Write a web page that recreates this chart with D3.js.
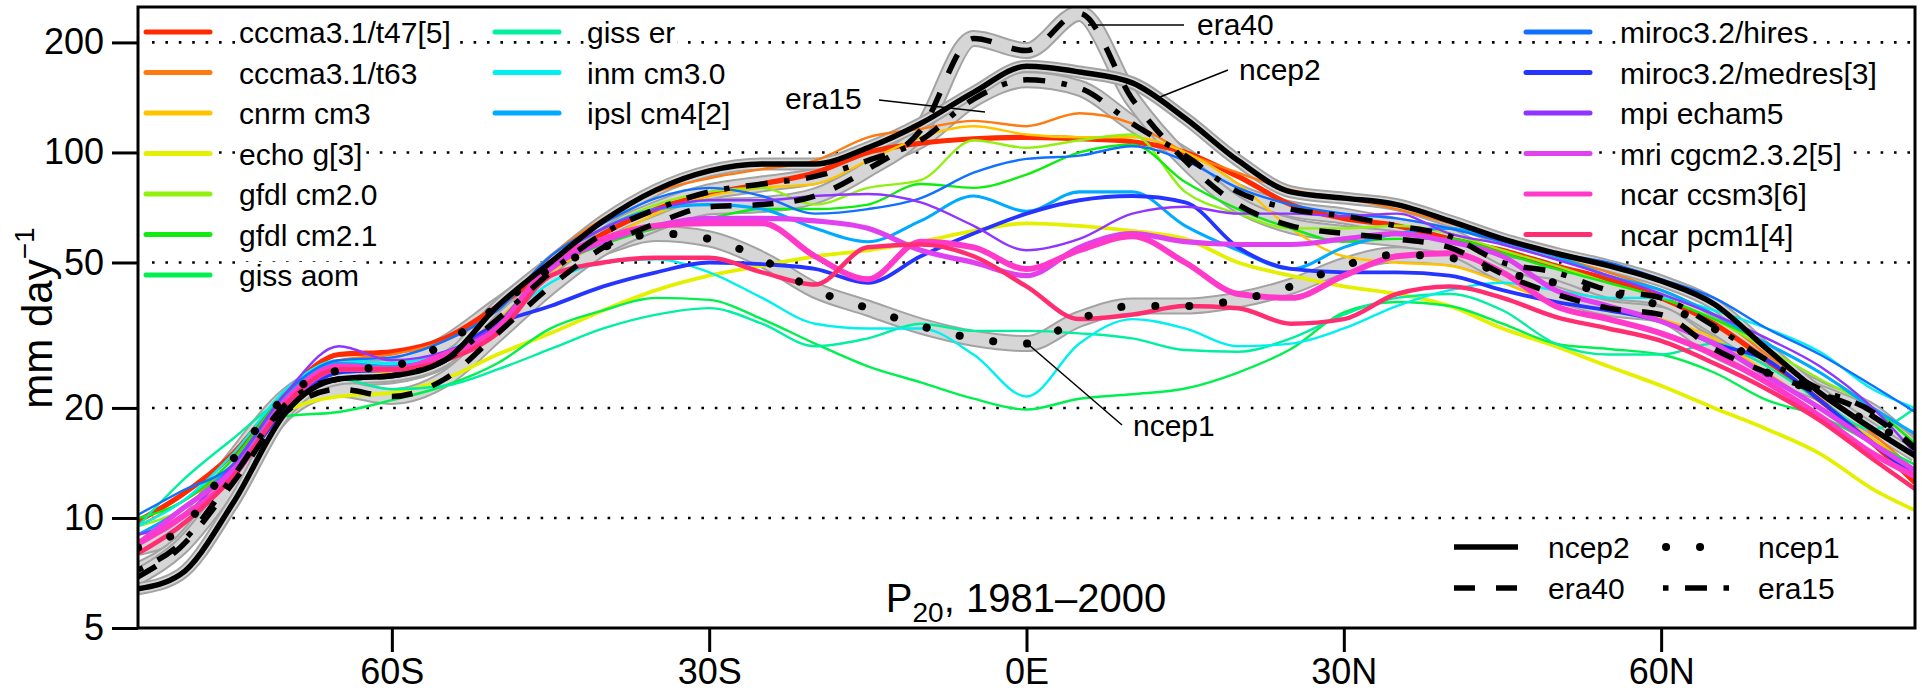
<!DOCTYPE html>
<html>
<head>
<meta charset="utf-8">
<script src="https://cdn.jsdelivr.net/npm/d3@7"></script>
<style>
  body { margin: 0; background: #fff; }
  svg { display: block; }
  text { font-family: "Liberation Sans", Arial, Helvetica, sans-serif; fill: #000; }
</style>
</head>
<body>
<svg width="1922" height="693"></svg>
<script>
// latitude grid (degrees, negative = south)
const lat = [-84, -80, -75, -70, -65, -60, -55, -50, -45, -40, -35, -30, -25, -20, -15, -10, -5, 0,
  5, 10, 15, 20, 25, 30, 35, 40, 45, 50, 55, 60, 65, 70, 75, 80, 84];

// P20 (mm/day) per model
const cccmaT47 = [9.8, 11.5, 15, 22, 28, 28.5, 31, 38, 48, 60, 70, 77, 82, 88, 100, 106, 109, 110, 109, 107, 100, 86, 72, 66, 63, 58, 54, 49, 45, 40, 34, 27, 21, 16, 12.5];
const cccmaT63 = [9.5, 11, 14, 21.5, 27, 28, 30.5, 37, 52, 66, 78, 85, 90, 95, 110, 116, 122, 118, 128, 120, 100, 88, 79, 75, 70, 64, 58, 52, 47, 42, 36, 28, 22, 17, 13.5];
const cnrmCm3 = [9, 10, 13.5, 21, 25.5, 25, 28, 35, 47, 57, 68, 76, 80, 82, 95, 110, 118, 112, 110, 110, 100, 82, 62, 52, 50, 49, 44, 39, 37, 35, 31, 25, 20, 16.5, 13.5];
const echoG = [9, 10, 13, 19.5, 21.5, 22, 24, 28, 32, 37, 42, 46, 49, 52, 54, 57, 61, 64, 63, 61, 58, 50, 46, 43, 41, 38, 33, 29.5, 26, 23, 20, 17.5, 15, 12, 10.5];
const gfdlCm20 = [9.5, 10.5, 14, 22, 26.5, 26, 27.5, 33, 50, 62, 72, 78, 80, 72, 80, 84, 108, 103, 108, 112, 78, 68, 62, 62, 63, 60, 54, 49, 44, 40, 35, 29, 24, 20, 16];
const gfdlCm21 = [10, 11, 14.5, 22, 26, 25.5, 28, 34, 48, 56, 62, 66, 70, 70, 72, 82, 80, 87, 100, 105, 83, 70, 62, 57, 58, 58, 53, 48, 44, 40, 35, 30, 25, 20, 16];
const gissAom = [9, 10.5, 14, 19, 19.5, 21, 23, 26.5, 33, 37, 40, 39.5, 35, 30, 26, 23.5, 21.2, 19.8, 21.2, 21.8, 22.6, 25, 29, 36.5, 39, 38, 34, 30, 29, 28, 25, 21, 19, 16, 14];
const gissEr = [9.5, 12.5, 16.5, 21.5, 24, 22.5, 23, 25.5, 29, 33, 36, 37.5, 34, 29.5, 31, 34, 32.5, 32.5, 32, 31, 28.8, 28.5, 31, 36, 40, 41, 37, 30, 28, 28, 30, 26, 21, 17.5, 20];
const inmCm30 = [9.5, 11, 15, 22.5, 27, 26.5, 28.5, 34, 44, 50, 51, 47, 40, 34, 33, 33, 28, 21.5, 30, 35, 33, 29.5, 30, 33, 38, 42, 44, 42, 40, 40, 37, 33, 28.5, 22.5, 20];
const ipslCm4 = [9, 10.5, 14, 21.5, 26.5, 26, 28, 34, 50, 62, 70, 72, 70, 62, 57, 65, 76, 69, 78, 78, 63, 54, 48, 55, 60, 62, 57, 52, 46, 42, 36, 30, 25, 20, 17];
const mirocHires = [10.2, 11.8, 14, 22, 27, 27.5, 30.5, 37, 52, 64, 75, 80, 76, 68, 70, 75, 88, 96, 98, 104, 95, 80, 72, 68, 66, 62, 57, 53, 50, 45, 40, 33, 28, 23, 19.5];
const mirocMedres = [8.5, 10, 13, 20, 25, 25.5, 28, 34, 38, 43, 47, 50, 49.5, 48, 44, 52, 60, 68, 74, 76, 73, 55, 48, 47, 47, 46, 42, 39, 37, 34.5, 30, 27, 21, 16, 13];
const mpiEcham5 = [9, 10, 14, 22, 29.5, 27, 28.5, 34, 50, 62, 70, 74, 74, 76, 77, 73, 63, 54, 58, 68, 71, 68, 68, 67, 68, 60, 56, 51, 46, 41, 36, 31, 26, 20, 15];
const mriCgcm = [8.5, 10.5, 13.5, 20.5, 25.5, 25.5, 28, 33, 48, 57, 63, 66, 66, 65, 62, 54, 50, 46, 55, 60, 57, 56, 56, 58, 60, 57, 52, 42, 38, 34.5, 30, 24.5, 20, 16, 13.5];
const ncarCcsm3 = [8.5, 10, 13, 21, 26, 25.5, 28, 33, 50, 58, 63, 64, 64, 52, 45, 57, 55, 48, 54, 59, 50, 41, 40, 46, 52, 53, 47, 38, 35, 32, 28, 23.5, 19, 15, 13];
const ncarPcm1 = [8, 9.5, 13, 20.5, 25.5, 25.5, 27, 32, 46, 50, 51.5, 51.5, 47, 43.5, 55, 56, 52, 43, 35, 36, 38, 37.5, 34, 35, 41, 43, 40, 35.5, 33, 30.5, 26.5, 22.5, 18.5, 14.5, 12];

// reanalyses
const ncep2 = [6.4, 7.0, 11, 19.5, 24, 24.5, 27, 38, 50, 65, 79, 89, 93, 93, 103, 120, 146, 172, 166, 155, 124, 95, 78, 75, 72, 65, 58, 53, 49, 44.5, 38.5, 29, 22, 17.5, 14.8];
const era40 = [6.9, 8.3, 12.5, 19.5, 22.5, 21.5, 24, 32, 43, 55, 64, 71, 72, 76, 90, 115, 205, 190, 240, 140, 95, 72, 63, 60, 58, 55, 46.5, 41, 37.5, 36, 29, 25, 22, 19, 15.5];
const era15 = [7.2, 8.5, 13, 20.5, 24, 24.5, 27, 35, 47, 60, 70, 78, 82, 86, 95, 108, 140, 158, 150, 120, 98, 78, 70, 67, 63, 59, 50, 47, 42, 40, 33.5, 27, 22.5, 19.5, 15.5];
const ncep1 = [8.3, 9.3, 14.5, 21.5, 25.3, 26, 30, 38, 48, 55, 60, 58, 51, 42, 37.5, 33.5, 31, 30, 35, 38, 38, 39.5, 43, 49, 52.5, 51.5, 47, 44, 41.5, 38, 33, 25, 22, 18, 16];

const modelNames = ["cccma3.1/t47[5]", "cccma3.1/t63", "cnrm cm3", "echo g[3]", "gfdl cm2.0", "gfdl cm2.1",
  "giss aom", "giss er", "inm cm3.0", "ipsl cm4[2]", "miroc3.2/hires", "miroc3.2/medres[3]",
  "mpi echam5", "mri cgcm2.3.2[5]", "ncar ccsm3[6]", "ncar pcm1[4]"];
const modelColors = ["#ff2a00", "#ff7a10", "#ffc400", "#e4f000", "#90f010", "#10ec10",
  "#00f050", "#00f0a0", "#00f0f0", "#00aaff", "#1070ff", "#2535ff",
  "#9035ff", "#e040f0", "#ff3acb", "#ff2e70"];
const modelMembers = [5, 1, 1, 3, 1, 1, 1, 1, 1, 2, 1, 3, 1, 5, 6, 4];
const modelValues = [cccmaT47, cccmaT63, cnrmCm3, echoG, gfdlCm20, gfdlCm21, gissAom, gissEr,
  inmCm30, ipslCm4, mirocHires, mirocMedres, mpiEcham5, mriCgcm, ncarCcsm3, ncarPcm1];

const yTicks = [5, 10, 20, 50, 100, 200];
const yGrid = [10, 20, 50, 100, 200];
const xTicks = [-60, -30, 0, 30, 60];
const xTickLabels = ["60S", "30S", "0E", "30N", "60N"];

const svg = d3.select("svg");
const pLeft = 138, pRight = 1915, pTop = 7, pBottom = 628;

const x = d3.scaleLinear().domain([-84, 84]).range([pLeft, pRight]);
const y = d3.scaleLog().domain([5, 250]).range([pBottom, pTop]);

svg.append("clipPath").attr("id", "plotclip")
  .append("rect").attr("x", pLeft).attr("y", pTop).attr("width", pRight - pLeft).attr("height", pBottom - pTop);

// dotted grid
svg.append("g").selectAll("line").data(yGrid).enter().append("line")
  .attr("x1", pLeft + 14).attr("x2", pRight)
  .attr("y1", d => y(d)).attr("y2", d => y(d))
  .attr("stroke", "#000").attr("stroke-width", 2.6)
  .attr("stroke-dasharray", "2.6,10.8");

const line = d3.line()
  .x((d, i) => x(lat[i]))
  .y(d => y(d))
  .curve(d3.curveMonotoneX);

const plot = svg.append("g").attr("clip-path", "url(#plotclip)");

// reanalysis definitions
const reanalyses = [
  { name: "ncep1", values: ncep1, width: 8, dash: "0.1,33.9", cap: "round", band: 17 },
  { name: "era15", values: era15, width: 5.5, dash: "5.5,16.5,22,16.5", cap: "butt", band: 17 },
  { name: "era40", values: era40, width: 5.5, dash: "21,21", cap: "butt", band: 17 },
  { name: "ncep2", values: ncep2, width: 5.5, dash: null, cap: "round", band: 13 }
];

// grey bands under everything
reanalyses.forEach(r => {
  plot.append("path").attr("d", line(r.values)).attr("fill", "none")
    .attr("stroke", "#a3a3a3").attr("stroke-width", r.band).attr("stroke-linejoin", "round");
  plot.append("path").attr("d", line(r.values)).attr("fill", "none")
    .attr("stroke", "#d6d6d6").attr("stroke-width", r.band - 4).attr("stroke-linejoin", "round");
});

// model lines
plot.append("g").selectAll("path")
  .data(modelValues)
  .enter()
  .append("path")
  .attr("d", d => line(d))
  .attr("fill", "none")
  .attr("stroke", (d, i) => modelColors[i])
  .attr("stroke-width", (d, i) => 2.4 + 0.7 * (modelMembers[i] - 1))
  .attr("stroke-linejoin", "round");

// black reanalysis lines on top
reanalyses.forEach(r => {
  plot.append("path").attr("d", line(r.values)).attr("fill", "none")
    .attr("stroke", "#000").attr("stroke-width", r.width)
    .attr("stroke-dasharray", r.dash)
    .attr("stroke-linecap", r.cap).attr("stroke-linejoin", "round");
});

// frame
svg.append("rect").attr("x", pLeft).attr("y", pTop).attr("width", pRight - pLeft).attr("height", pBottom - pTop)
  .attr("fill", "none").attr("stroke", "#000").attr("stroke-width", 3);

// axes
const yAxis = svg.append("g").attr("transform", `translate(${pLeft},0)`)
  .call(d3.axisLeft(y).tickValues(yTicks).tickFormat(d3.format("d")).tickSize(26).tickPadding(8));
const xAxis = svg.append("g").attr("transform", `translate(0,${pBottom})`)
  .call(d3.axisBottom(x).tickValues(xTicks).tickFormat((d, i) => xTickLabels[i]).tickSize(24).tickPadding(6));
[yAxis, xAxis].forEach(a => {
  a.select(".domain").remove();
  a.selectAll("line").attr("stroke", "#000").attr("stroke-width", 3);
  a.selectAll("text").style("font-family", '"Liberation Sans", Arial, sans-serif')
    .style("font-size", "36px").attr("fill", "#000");
});

// y label
const ylab = svg.append("text")
  .attr("transform", "translate(52,318) rotate(-90)")
  .attr("text-anchor", "middle")
  .style("font-size", "42px");
ylab.append("tspan").text("mm day");
ylab.append("tspan").text("\u22121").style("font-size", "28px").attr("dy", -18);

// title
const title = svg.append("text").attr("x", 1026).attr("y", 612).attr("text-anchor", "middle")
  .style("font-size", "40px");
title.append("tspan").text("P");
title.append("tspan").text("20").style("font-size", "28px").attr("dy", 10);
title.append("tspan").text(", 1981\u20132000").attr("dy", -10);

// legend text with a white box behind it, so the grid dots stop at the words
function labelWithBg(g, tx, ty, str) {
  const bg = g.append("rect").attr("fill", "#fff");
  const t = g.append("text").attr("x", tx).attr("y", ty).style("font-size", "30px").text(str);
  const b = t.node().getBBox();
  bg.attr("x", b.x - 2).attr("y", b.y + 3).attr("width", b.width + 4).attr("height", b.height - 6);
}

// model legend
const legendCols = [
  { lx: 146, tx: 239, items: [0, 1, 2, 3, 4, 5, 6] },
  { lx: 495, tx: 587, items: [7, 8, 9] },
  { lx: 1526, tx: 1620, items: [10, 11, 12, 13, 14, 15] }
];
const legend = svg.append("g");
legendCols.forEach(col => {
  col.items.forEach((m, j) => {
    const yy = 32 + 40.5 * j;
    legend.append("line").attr("x1", col.lx).attr("x2", col.lx + 64).attr("y1", yy).attr("y2", yy)
      .attr("stroke", modelColors[m]).attr("stroke-width", 5).attr("stroke-linecap", "round");
    labelWithBg(legend, col.tx, yy + 11, modelNames[m]);
  });
});

// reanalysis legend (bottom right)
const reLegend = [
  { name: "ncep2", lx: 1454, lw: 64, tx: 1548, yy: 547, r: 3 },
  { name: "ncep1", lx: 1666, lw: 34.5, tx: 1758, yy: 547, r: 0 },
  { name: "era40", lx: 1454, lw: 64, tx: 1548, yy: 588, r: 2 },
  { name: "era15", lx: 1663, lw: 66, tx: 1758, yy: 588, r: 1 }
];
reLegend.forEach(e => {
  const r = reanalyses[e.r];
  svg.append("line").attr("x1", e.lx).attr("x2", e.lx + e.lw).attr("y1", e.yy).attr("y2", e.yy)
    .attr("stroke", "#000").attr("stroke-width", r.width)
    .attr("stroke-dasharray", r.dash).attr("stroke-linecap", r.cap === "round" && r.dash ? "round" : "butt");
  svg.append("text").attr("x", e.tx).attr("y", e.yy + 11).style("font-size", "30px").text(e.name);
});

// leader-line annotations
const notes = [
  { text: "era40", tx: 1197, ty: 35, x1: 1088, y1: 25, x2: 1184, y2: 25 },
  { text: "ncep2", tx: 1239, ty: 80, x1: 1160, y1: 97, x2: 1228, y2: 70 },
  { text: "era15", tx: 785, ty: 109, x1: 879, y1: 100, x2: 985, y2: 112 },
  { text: "ncep1", tx: 1133, ty: 436, x1: 1029, y1: 345, x2: 1122, y2: 425 }
];
notes.forEach(n => {
  svg.append("line").attr("x1", n.x1).attr("y1", n.y1).attr("x2", n.x2).attr("y2", n.y2)
    .attr("stroke", "#000").attr("stroke-width", 1.5);
  svg.append("text").attr("x", n.tx).attr("y", n.ty).style("font-size", "30px").text(n.text);
});
</script>
</body>
</html>
